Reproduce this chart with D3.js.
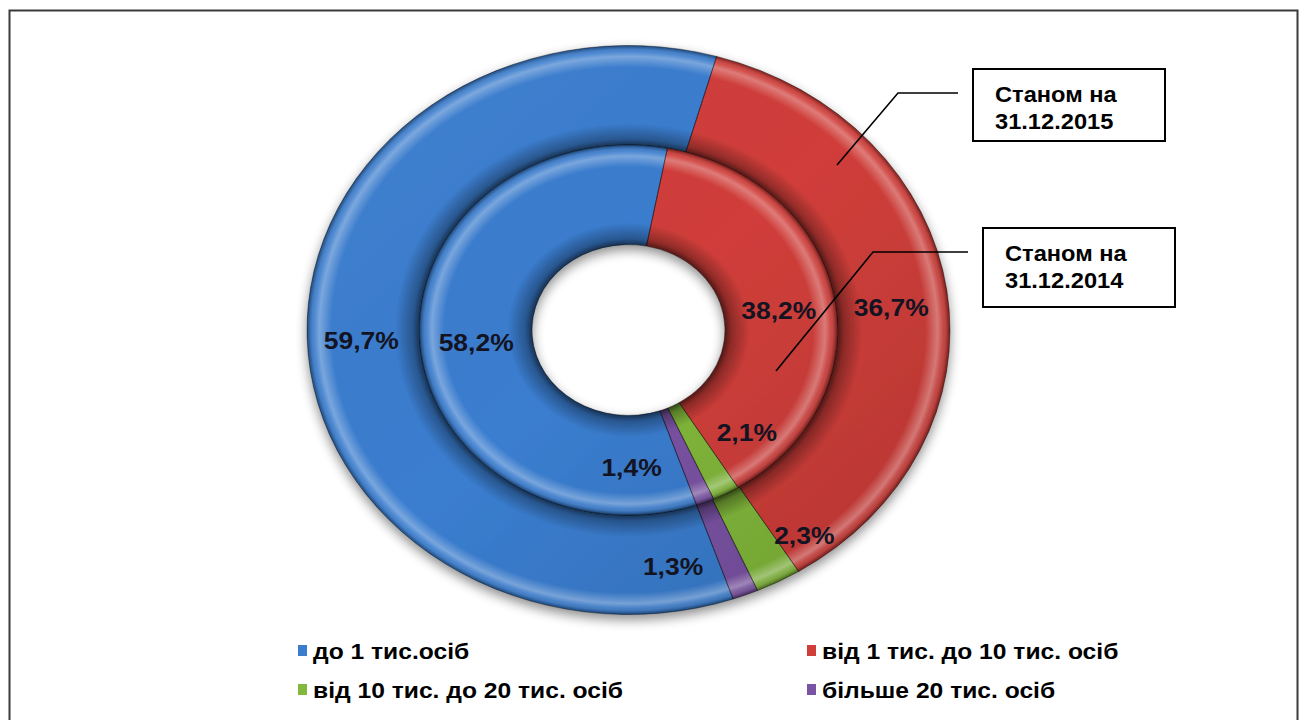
<!DOCTYPE html>
<html>
<head>
<meta charset="utf-8">
<script src="https://cdn.jsdelivr.net/npm/d3@7"></script>
<style>
  body { margin: 0; background: #fff; }
  text { font-family: "Liberation Sans", Arial, sans-serif; font-weight: bold; }
</style>
</head>
<body>
<div id="chart"></div>
<script>
// data
const categories = ["до 1 тис.осіб", "від 1 тис. до 10 тис. осіб", "від 10 тис. до 20 тис. осіб", "більше 20 тис. осіб"];
const values2015 = [59.7, 36.7, 2.3, 1.3]; // outer ring
const values2014 = [58.2, 38.2, 2.1, 1.4]; // inner ring
const seriesNames = [["Станом на", "31.12.2015"], ["Станом на", "31.12.2014"]];
const colors = ["#3a7dcf", "#d03e3a", "#82b83b", "#7b53a4"];

// layout
const width = 1306, height = 720;
const cx = 628.5, cy = 330, yScale = 0.885;
const rHole = 96.5, rMid = 209, rOut = 321.5;
const startDeg = 161;
const stretch = 1.08; // text in the picture is a bit wide

// small slice labels sit beside their slice
const outerShift = [[-2, 4], [0, 10], [52, -2], [-52, 18]];
const innerShift = [[0, 2], [0, 5], [47, -17], [-53, 11]];

const svg = d3.select("#chart").append("svg")
    .attr("width", width).attr("height", height);

const defs = svg.append("defs");
const shadow = defs.append("filter").attr("id", "shadow")
    .attr("x", "-20%").attr("y", "-20%").attr("width", "140%").attr("height", "140%");
shadow.append("feGaussianBlur").attr("in", "SourceAlpha").attr("stdDeviation", 6);
shadow.append("feOffset").attr("dx", 0).attr("dy", 5).attr("result", "b");
shadow.append("feComponentTransfer").append("feFuncA").attr("type", "linear").attr("slope", 0.45);
const merge = shadow.append("feMerge");
merge.append("feMergeNode");
merge.append("feMergeNode").attr("in", "SourceGraphic");

// tube shading for each ring
function ringGradient(id, ri, ro) {
    const w = ro - ri;
    const g = defs.append("radialGradient").attr("id", id)
        .attr("gradientUnits", "userSpaceOnUse")
        .attr("cx", 0).attr("cy", 0).attr("r", ro);
    const stops = [
        [ri, "#000", 0.6],
        [ri + 0.06 * w, "#000", 0.3],
        [ri + 0.22 * w, "#000", 0],
        [ro - 0.22 * w, "#fff", 0],
        [ro - 0.11 * w, "#fff", 0.32],
        [ro - 0.06 * w, "#fff", 0.08],
        [ro - 0.02 * w, "#000", 0.2],
        [ro, "#000", 0.4]
    ];
    stops.forEach(s => g.append("stop")
        .attr("offset", s[0] / ro).attr("stop-color", s[1]).attr("stop-opacity", s[2]));
}
ringGradient("gOuter", rMid, rOut);
ringGradient("gInner", rHole, rMid);

// light from top-left, darker at bottom-right
const tone = defs.append("linearGradient").attr("id", "tone")
    .attr("gradientUnits", "userSpaceOnUse")
    .attr("x1", -rOut).attr("y1", -rOut).attr("x2", rOut).attr("y2", rOut);
tone.append("stop").attr("offset", 0).attr("stop-color", "#fff").attr("stop-opacity", 0.06);
tone.append("stop").attr("offset", 0.5).attr("stop-color", "#000").attr("stop-opacity", 0);
tone.append("stop").attr("offset", 1).attr("stop-color", "#000").attr("stop-opacity", 0.14);

// border
svg.append("rect").attr("x", 9.5).attr("y", 10.5).attr("width", 1288).attr("height", 720)
    .attr("fill", "none").attr("stroke", "#3a3a3a").attr("stroke-width", 2);

const pie = d3.pie().sort(null)
    .startAngle(startDeg * Math.PI / 180)
    .endAngle(startDeg * Math.PI / 180 + 2 * Math.PI);

const donut = svg.append("g").attr("filter", "url(#shadow)");
const g = donut.append("g").attr("transform", `translate(${cx},${cy}) scale(1,${yScale})`);

function drawRing(values, ri, ro, grad, shift) {
    const arcs = pie(values);
    const arc = d3.arc().innerRadius(ri).outerRadius(ro);
    g.selectAll(null).data(arcs).enter().append("path")
        .attr("d", arc)
        .attr("fill", (d, i) => colors[i]);
    g.selectAll(null).data(arcs).enter().append("path")
        .attr("d", arc)
        .attr("fill", "url(#tone)");
    g.selectAll(null).data(arcs).enter().append("path")
        .attr("d", arc)
        .attr("fill", `url(#${grad})`)
        .attr("stroke", "rgba(0,0,0,0.4)").attr("stroke-width", 1);
    return arcs.map((d, i) => {
        const c = arc.centroid(d);
        return { x: cx + c[0] + shift[i][0], y: cy + c[1] * yScale + shift[i][1], v: values[i] };
    });
}

const outerLabels = drawRing(values2015, rMid, rOut, "gOuter", outerShift);
const innerLabels = drawRing(values2014, rHole, rMid, "gInner", innerShift);

const fmt = v => v.toFixed(1).replace(".", ",") + "%";
svg.selectAll("text.val").data(outerLabels.concat(innerLabels)).enter().append("text")
    .attr("class", "val")
    .attr("transform", d => `translate(${d.x},${d.y}) scale(${stretch},1)`)
    .attr("text-anchor", "middle").attr("dy", "0.36em")
    .attr("font-size", 24.5).attr("fill", "#131322")
    .text(d => fmt(d.v));

// callouts for the two rings
const callouts = [
    { box: [973, 69, 192, 72], line: [[958, 93], [898, 93], [837, 165]], names: seriesNames[0] },
    { box: [983, 228, 192, 79], line: [[968, 252], [873, 252], [776, 371]], names: seriesNames[1] }
];
callouts.forEach(c => {
    svg.append("polyline").attr("points", c.line.map(p => p.join(",")).join(" "))
        .attr("fill", "none").attr("stroke", "#000").attr("stroke-width", 1.6);
    svg.append("rect").attr("x", c.box[0]).attr("y", c.box[1])
        .attr("width", c.box[2]).attr("height", c.box[3])
        .attr("fill", "#fff").attr("stroke", "#000").attr("stroke-width", 2);
    c.names.forEach((t, k) => {
        svg.append("text")
            .attr("transform", `translate(${c.box[0] + 22},${c.box[1] + 33 + k * 27}) scale(1.1,1)`)
            .attr("font-size", 21.5).attr("fill", "#000").text(t);
    });
});

// legend
const legX = [298, 807], legY = [651, 690];
const leg = svg.selectAll("g.leg").data(categories).enter().append("g")
    .attr("class", "leg")
    .attr("transform", (d, i) => `translate(${legX[i % 2]},${legY[Math.floor(i / 2)]})`);
leg.append("rect").attr("x", 0).attr("y", -6).attr("width", 9).attr("height", 11)
    .attr("fill", (d, i) => colors[i]);
leg.append("text").attr("transform", `translate(15,0) scale(1.12,1)`)
    .attr("dy", "0.36em").attr("font-size", 22).attr("fill", "#000")
    .text(d => d);
</script>
</body>
</html>
